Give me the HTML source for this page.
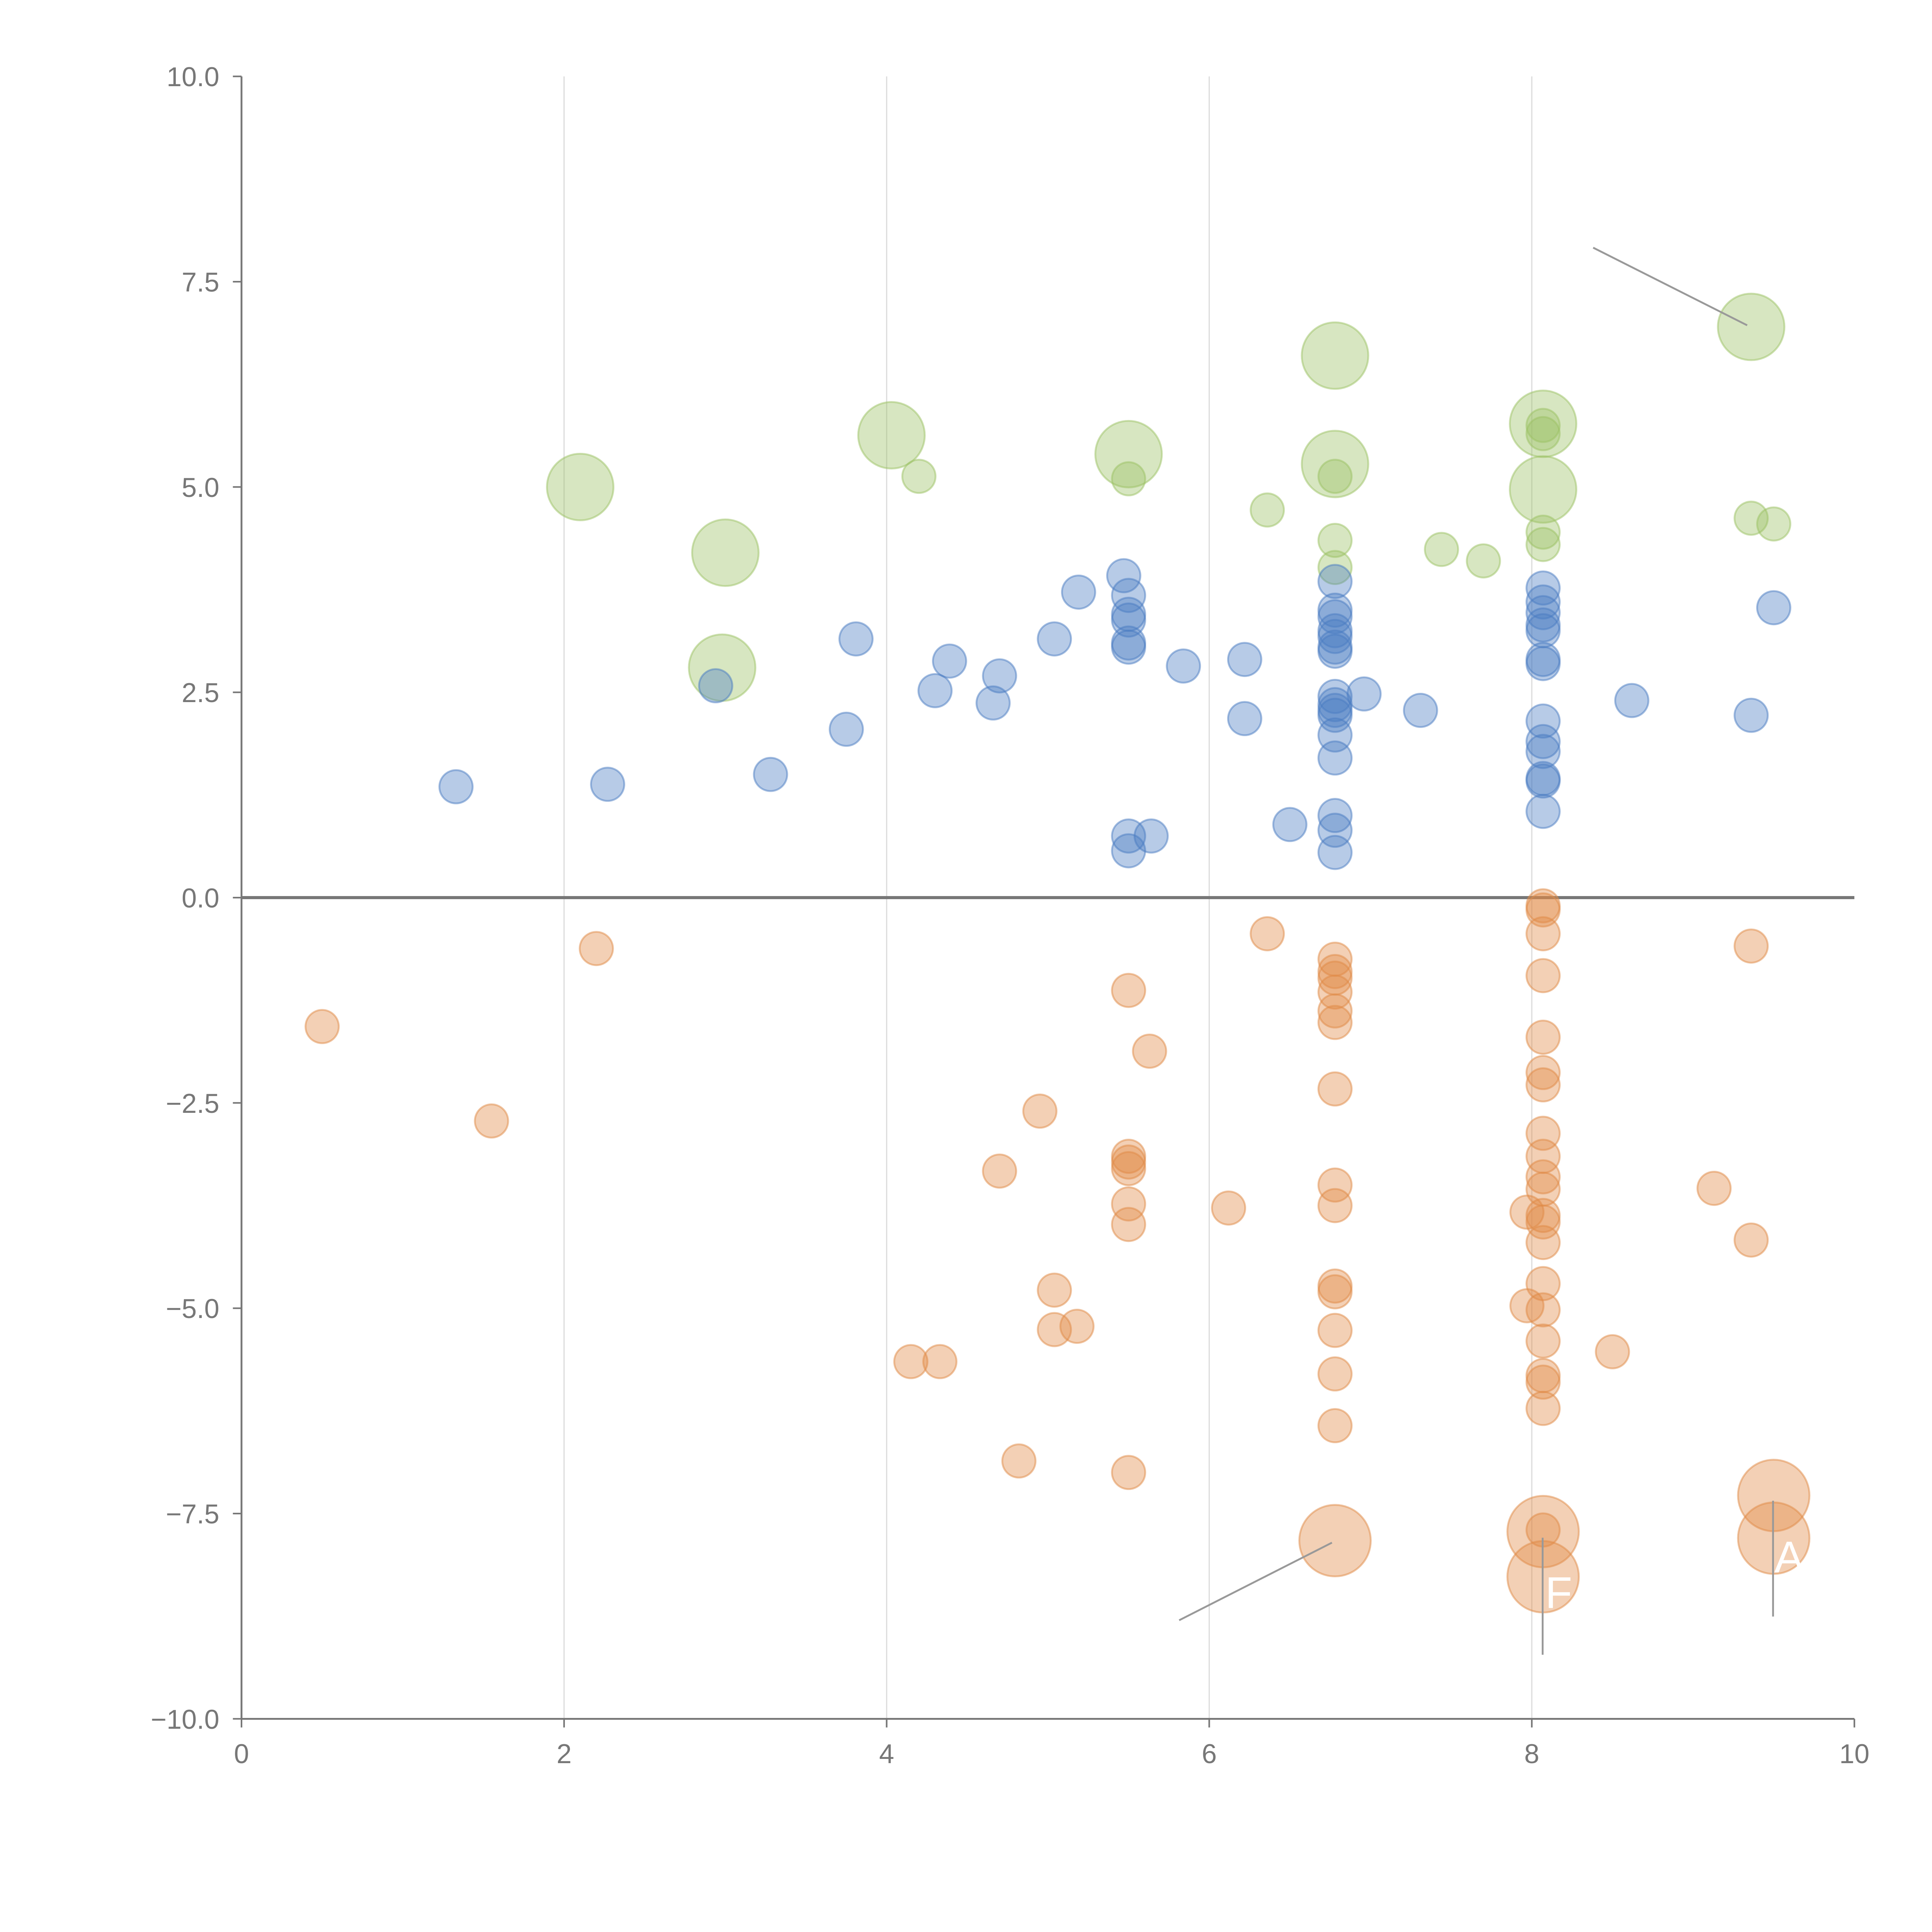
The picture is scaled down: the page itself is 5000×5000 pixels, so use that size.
<!DOCTYPE html>
<html><head><meta charset="utf-8"><style>
html,body{margin:0;padding:0;background:#fff}
svg{display:block}
text{font-family:"Liberation Sans",sans-serif;fill:#777}
</style></head><body>
<svg id="chart" width="5000" height="5000" viewBox="0 0 1568 1568" xmlns="http://www.w3.org/2000/svg">
<g id="grid"></g>
<g id="axes"></g>
<g id="marks"></g>
<g id="annot"></g>
</svg>
<script>
const xTicks=[0,2,4,6,8,10];
const yTicks=[10,7.5,5,2.5,0,-2.5,-5,-7.5,-10];
const yTickLabels=["10.0","7.5","5.0","2.5","0.0","−2.5","−5.0","−7.5","−10.0"];
const blueX=[1.33,2.27,3.28,2.94,3.75,3.81,4.3,4.39,4.66,4.7,5.04,5.19,5.47,5.5,5.5,5.5,5.5,5.5,5.5,5.5,5.64,5.84,6.22,6.22,6.5,6.78,6.78,6.78,6.78,6.78,6.78,6.78,6.78,6.78,6.78,6.78,6.78,6.78,6.78,6.78,6.78,6.96,7.31,8.07,8.07,8.07,8.07,8.07,8.07,8.07,8.07,8.07,8.07,8.07,8.07,8.07,8.62,9.36,9.5];
const blueY=[1.35,1.38,1.5,2.58,2.05,3.15,2.52,2.88,2.37,2.7,3.15,3.72,3.92,3.68,3.45,3.38,3.1,3.05,0.75,0.57,0.75,2.82,2.9,2.18,0.89,3.85,3.5,3.42,3.25,3.18,3.05,3.0,2.45,2.35,2.28,2.22,1.98,1.7,1.0,0.82,0.55,2.48,2.28,3.77,3.6,3.47,3.32,3.25,2.9,2.85,2.15,1.9,1.78,1.45,1.42,1.05,2.4,2.22,3.53];
const orangeX=[0.5,1.55,2.2,4.15,4.33,4.7,4.82,4.95,5.04,5.04,5.18,5.5,5.5,5.5,5.5,5.5,5.5,5.5,5.63,6.12,6.36,6.78,6.78,6.78,6.78,6.78,6.78,6.78,6.78,6.78,6.78,6.78,6.78,6.78,6.78,8.07,8.07,8.07,8.07,8.07,8.07,8.07,8.07,8.07,8.07,8.07,8.07,8.07,8.07,8.07,8.07,8.07,8.07,8.07,8.07,8.07,7.97,7.97,8.5,9.13,9.36,9.36];
const orangeY=[-1.57,-2.72,-0.62,-5.65,-5.65,-3.33,-6.86,-2.6,-4.78,-5.26,-5.22,-1.13,-3.15,-3.22,-3.3,-3.73,-3.98,-7.0,-1.87,-3.78,-0.44,-0.75,-0.9,-0.98,-1.15,-1.38,-1.52,-2.33,-3.5,-3.75,-4.73,-4.8,-5.27,-5.8,-6.43,-0.1,-0.15,-0.44,-0.95,-1.7,-2.13,-2.28,-2.87,-3.15,-3.4,-3.55,-3.87,-3.95,-4.2,-4.7,-5.02,-5.4,-5.82,-5.9,-6.22,-7.7,-3.83,-4.97,-5.53,-3.54,-0.59,-4.17];
const orangeBigX=[6.78,8.07,8.07,9.5,9.5];
const orangeBigY=[-7.83,-7.72,-8.27,-7.28,-7.8];
const greenX=[4.2,5.5,6.36,6.78,6.78,6.78,7.44,7.7,8.07,8.07,8.07,8.07,9.36,9.5];
const greenY=[5.13,5.1,4.72,5.13,4.35,4.02,4.24,4.1,5.65,4.45,4.3,5.75,4.62,4.55];
const greenBigX=[2.1,3.0,2.98,4.03,5.5,6.78,6.78,8.07,8.07,9.36];
const greenBigY=[5.0,4.2,2.8,5.63,5.4,6.6,5.28,5.77,4.97,6.95];

const NS="http://www.w3.org/2000/svg";
const X0=196,X1=1505,Y0=1395,Y1=62;
function sx(v){return X0+(v-0)/(10-0)*(X1-X0);}
function sy(v){return Y0-(v+10)/20*(Y0-Y1);}
function mk(tag,attrs,parent){const e=document.createElementNS(NS,tag);for(const k in attrs)e.setAttribute(k,attrs[k]);parent.appendChild(e);return e;}
const grid=document.getElementById('grid'),axes=document.getElementById('axes'),marks=document.getElementById('marks'),annot=document.getElementById('annot');

xTicks.forEach(t=>{
  if(t>0&&t<10){const l=mk('line',{x1:sx(t),x2:sx(t),y1:Y1,y2:Y0,stroke:'#ddd','stroke-width':1},grid);
  
  }
  const tk=mk('line',{x1:sx(t),x2:sx(t),y1:Y0,y2:Y0+7,stroke:'#777','stroke-width':1.3},axes);
  
  
  const tx=mk('text',{x:sx(t),y:Y0+36,'text-anchor':'middle','font-size':22},axes);
  tx.textContent=t;
  
  
});
yTicks.forEach((t,i)=>{
  const tk=mk('line',{x1:X0-7,x2:X0,y1:sy(t),y2:sy(t),stroke:'#777','stroke-width':1.3},axes);
  
  
  const tx=mk('text',{x:X0-18,y:sy(t)+8,'text-anchor':'end','font-size':22},axes);
  tx.textContent=yTickLabels[i];
  
  
});
const xa=mk('line',{x1:X0,x2:X1,y1:Y0,y2:Y0,stroke:'#777','stroke-width':1.5},axes);


const ya=mk('line',{x1:X0,x2:X0,y1:Y1,y2:Y0,stroke:'#777','stroke-width':1.5},axes);


const zl=mk('line',{x1:X0,x2:X1,y1:sy(0),y2:sy(0),stroke:'#777','stroke-width':2.5},axes);



function series(xs,ys,r,fill,stroke,name){
  xs.forEach((x,i)=>{
    const c=mk('circle',{cx:sx(x),cy:sy(ys[i]),r:r,fill:fill,'fill-opacity':0.4,stroke:stroke,'stroke-opacity':0.5,'stroke-width':1.5},marks);
    
    
  });
}
series(greenBigX,greenBigY,27,'#9cc163','#9cc163','green-large-point');
series(greenX,greenY,13.5,'#9cc163','#9cc163','green-point');
series(blueX,blueY,13.5,'#4a7cc2','#4a7cc2','blue-point');
series(orangeX,orangeY,13.5,'#e08a45','#e08a45','orange-point');
series(orangeBigX,orangeBigY,29,'#e08a45','#e08a45','orange-large-point');

[[1293,201,1418,264],[957,1315,1081,1252],[1252,1248,1252,1343],[1439,1218,1439,1312]].forEach(s=>{
  const l=mk('line',{x1:s[0],y1:s[1],x2:s[2],y2:s[3],stroke:'#999','stroke-width':1.5},annot);
  
  
});
[['F',1254,1305],['A',1440,1276]].forEach(a=>{
  const t=mk('text',{x:a[1],y:a[2],'font-size':36},annot);
  t.style.fill='#fff';
  t.textContent=a[0];
  
  
});
</script>
</body></html>
